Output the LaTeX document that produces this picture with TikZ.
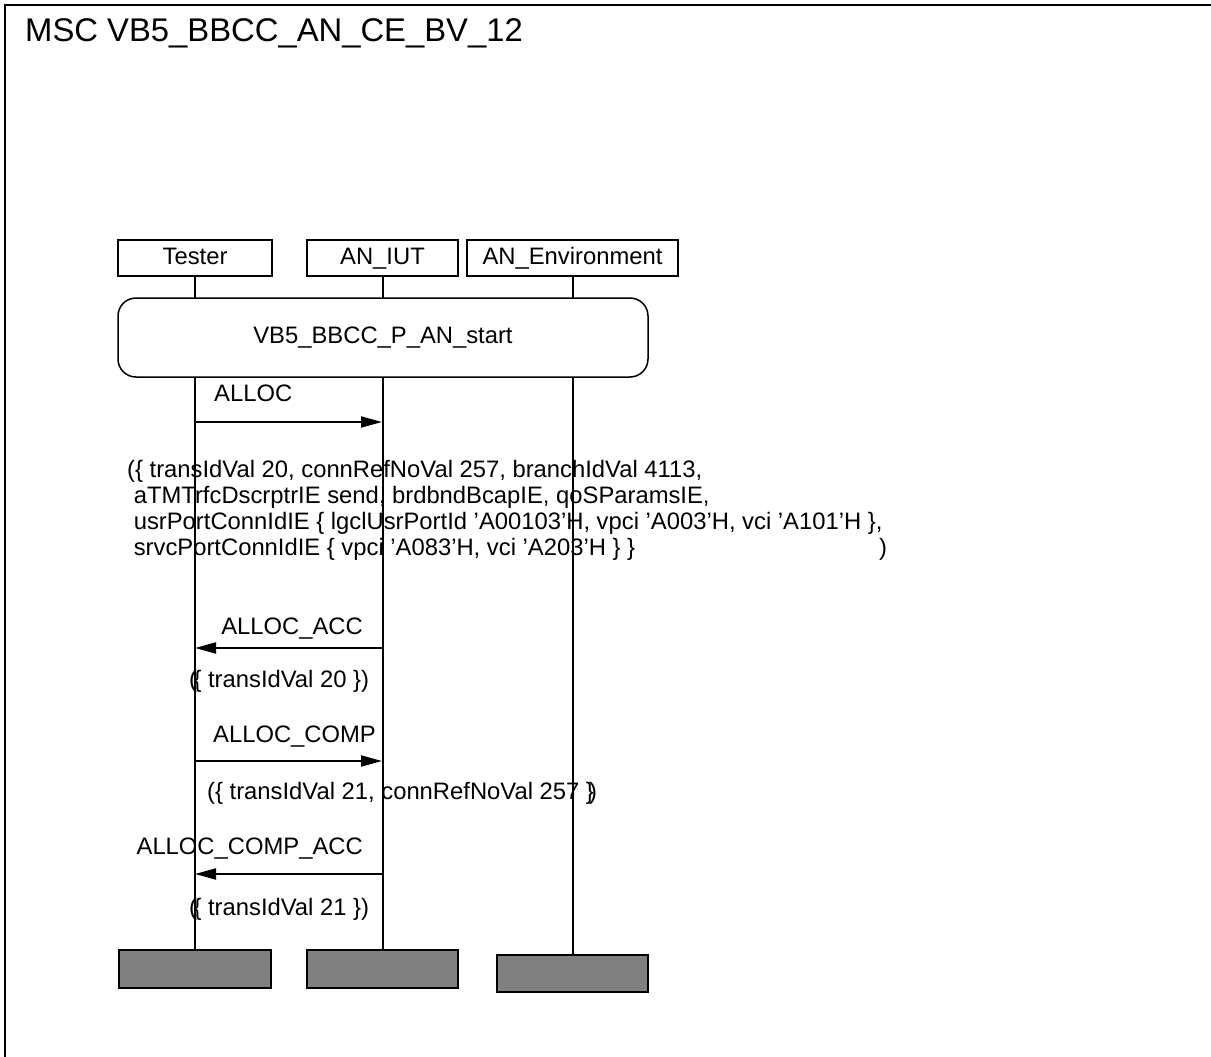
\documentclass[tikz,border=0pt]{standalone}
\usepackage{fontspec}
\setmainfont{Liberation Sans}
\usetikzlibrary{arrows.meta,positioning}

\begin{document}
\begin{tikzpicture}[x=1pt,y=-1pt,
    every node/.style={font=\fontsize{23.8}{26}\selectfont, inner sep=0pt},
    headbox/.style={draw, line width=1.5pt, minimum height=36pt,
      text height=17pt, text depth=5pt},
    endbar/.style={draw, line width=2pt, fill=black!50, minimum height=38pt},
    refbox/.style={draw, line width=1.5pt, fill=white, rounded corners=18pt,
      minimum width=530pt, minimum height=79pt},
    lifeline/.style={line width=2pt},
    msg/.style={line width=2pt, -{Triangle[length=21pt,width=11pt]}},
    msglbl/.style={anchor=base west},
    msglblr/.style={anchor=base east},
  ]
  \useasboundingbox (0,0) rectangle (1211,1057);
  % frame
  \draw[line width=2.5pt] (5,1070) -- (5,5) -- (1220,5);
  \node[anchor=base west, font=\fontsize{32.8}{36}\selectfont] (title) at (25,42)
    {MSC VB5\_BBCC\_AN\_CE\_BV\_12};

  % instances
  \node[headbox, minimum width=154pt] (tester) at (195,258) {Tester};
  \node[headbox, minimum width=151pt] (iut) at (382.5,258) {AN\_IUT};
  \node[headbox, minimum width=211pt] (env) at (572.5,258) {AN\_Environment};

  \node[endbar, minimum width=152pt] (testerend) at (195,969) {};
  \node[endbar, minimum width=151pt] (iutend) at (382.5,969) {};
  \node[endbar, minimum width=151pt, minimum height=37pt] (envend) at (572.5,973.5) {};

  \draw[lifeline] (tester) -- (testerend);
  \draw[lifeline] (iut) -- (iutend);
  \draw[lifeline] (env) -- (envend);

  % reference
  \node[refbox] (start) at (383,337.5) {VB5\_BBCC\_P\_AN\_start};

  % ALLOC
  \coordinate (alloct) at (195,422);
  \coordinate (alloci) at (382,422);
  \draw[msg] (alloct) -- (alloci);
  \node[msglbl] (alloclbl) at (214,401) {ALLOC};
  \node[anchor=north west, align=left] (allocpar) at (127,460.5)
    {(\{ transIdVal 20, connRefNoVal 257, branchIdVal 4113,\\
    \ aTMTrfcDscrptrIE send, brdbndBcapIE, qoSParamsIE,\\
    \ usrPortConnIdIE \{ lgclUsrPortId 'A00103'H, vpci 'A003'H, vci 'A101'H \},\\
    \ srvcPortConnIdIE \{ vpci 'A083'H, vci 'A203'H \} \}\hspace{244pt})};

  % ALLOC_ACC
  \coordinate (acci) at (382,648);
  \coordinate (acct) at (195,648);
  \draw[msg] (acci) -- (acct);
  \node[msglblr] (acclbl) at (363,634) {ALLOC\_ACC};
  \node[anchor=base west] (accpar) at (189,687) {(\kern-0.15em\{ transIdVal 20 \})};

  % ALLOC_COMP
  \coordinate (compt) at (195,761);
  \coordinate (compi) at (382,761);
  \draw[msg] (compt) -- (compi);
  \node[msglbl] (complbl) at (213,742) {ALLOC\_COMP};
  \node[anchor=base west] (comppar) at (207,799)
    {(\{ transIdVal 21, connRefNoVal 257 \}\kern-0.2em)};

  % ALLOC_COMP_ACC
  \coordinate (cacci) at (382,874);
  \coordinate (cacct) at (195,874);
  \draw[msg] (cacci) -- (cacct);
  \node[msglblr] (cacclbl) at (363,854) {ALLOC\_COMP\_ACC};
  \node[anchor=base west] (caccpar) at (189,915) {(\kern-0.15em\{ transIdVal 21 \})};
\end{tikzpicture}
\end{document}
